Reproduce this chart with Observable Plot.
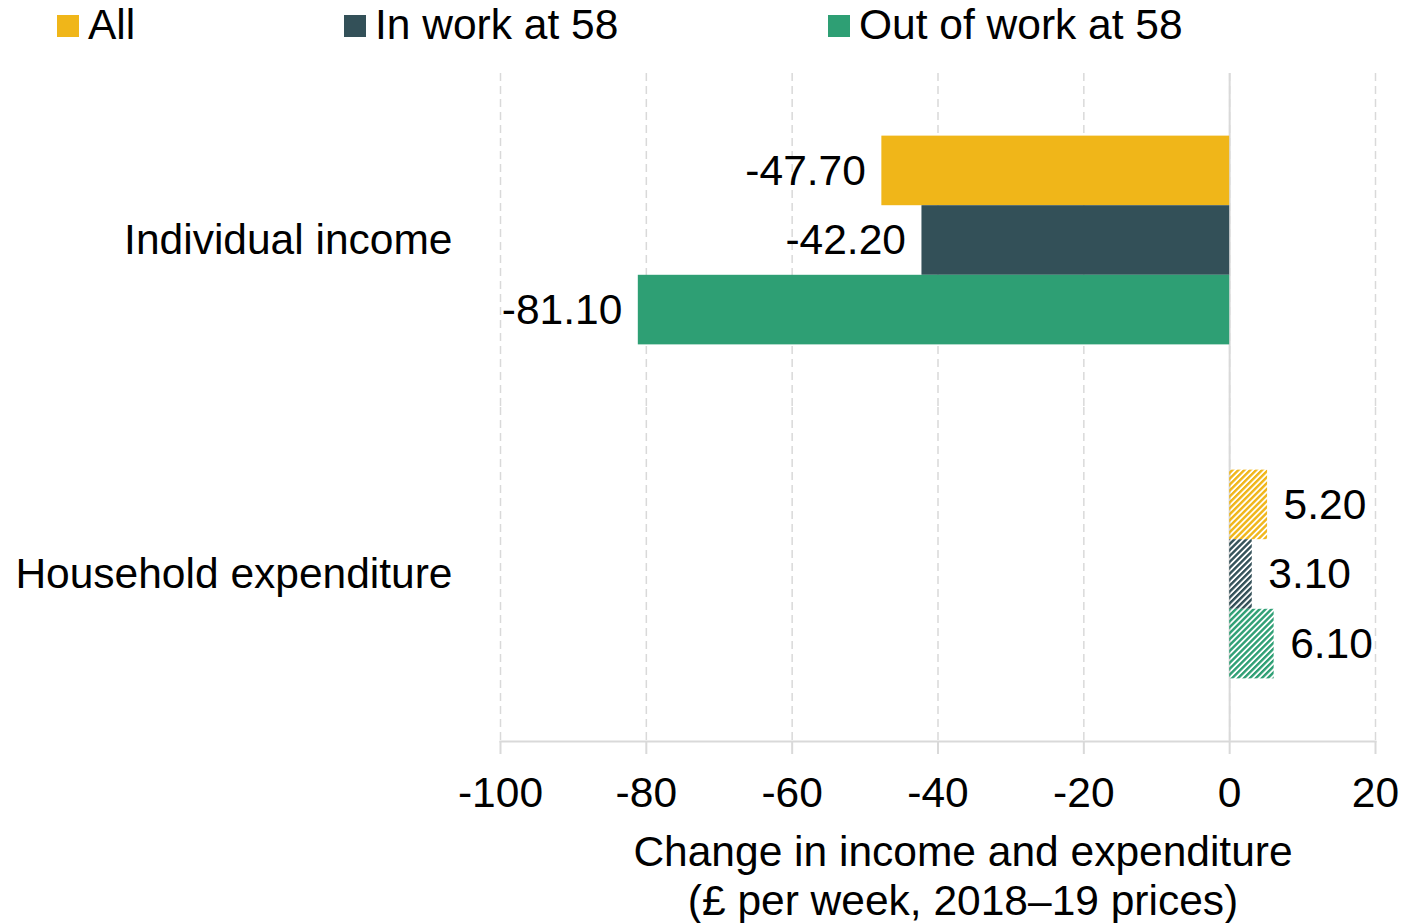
<!DOCTYPE html>
<html>
<head>
<meta charset="utf-8">
<script src="https://cdn.jsdelivr.net/npm/d3@7"></script>
<script src="https://cdn.jsdelivr.net/npm/@observablehq/plot@0.6"></script>
<style>
  html, body { margin: 0; padding: 0; background: #fff; }
  body { width: 1409px; height: 923px; overflow: hidden; font-family: "Liberation Sans", Arial, sans-serif; color: #000; }
  #legend { position: relative; width: 1409px; height: 60px; font-size: 42.5px; }
  .item { position: absolute; top: 0; height: 60px; }
  .sw { position: absolute; top: 15px; left: 0; width: 22px; height: 22px; }
  .lab { position: absolute; top: 4px; left: 31px; line-height: 42px; white-space: nowrap; }
  svg { display: block; }
</style>
</head>
<body>
<div id="legend"></div>
<div id="chart"></div>
<script>
const categories = ["Individual income", "Household expenditure"];
const series = ["All", "In work at 58", "Out of work at 58"];
const incomeValues = [-47.7, -42.2, -81.1];
const expenditureValues = [5.2, 3.1, 6.1];
const xTicks = [-100, -80, -60, -40, -20, 0, 20];
const colors = ["#F0B619", "#335058", "#2E9F74"];
const axisTitle = "Change in income and expenditure\n(£ per week, 2018–19 prices)";
const legendLefts = [57, 344, 828];

// legend
const legend = d3.select("#legend");
series.forEach((s, i) => {
  const it = legend.append("div").attr("class", "item").style("left", legendLefts[i] + "px");
  it.append("span").attr("class", "sw").style("background", colors[i]);
  it.append("span").attr("class", "lab").text(s);
});

const data = categories.flatMap((c, ci) =>
  series.map((s, si) => ({
    category: c,
    series: s,
    si,
    hatched: ci === 1,
    value: (ci === 0 ? incomeValues : expenditureValues)[si]
  }))
);

const fmt = d => d.toFixed(2);

const plot = Plot.plot({
  width: 1409,
  height: 863,
  marginTop: 13,
  marginBottom: 182,
  marginLeft: 500,
  marginRight: 34,
  style: { fontFamily: "'Liberation Sans', Arial, sans-serif", fontSize: "42.5px", color: "#000", background: "#fff" },
  x: { domain: [-100, 20] },
  fy: { domain: categories, padding: 0, round: false },
  y: { domain: series, paddingInner: 0, paddingOuter: 0.9, round: false, axis: null },
  color: { type: "identity" },
  marks: [
    Plot.gridX(xTicks, { stroke: "#d9d9d9", strokeOpacity: 1, strokeWidth: 1.5, strokeDasharray: "8,5" }),
    Plot.ruleX([0], { stroke: "#d9d9d9", strokeWidth: 2 }),
    Plot.barX(data, {
      x: "value", y: "series", fy: "category",
      fill: d => d.hatched ? `url(#hatch-${d.si})` : colors[d.si]
    }),
    Plot.text(data.filter(d => d.value < 0), {
      x: "value", y: "series", fy: "category", text: d => fmt(d.value),
      textAnchor: "end", dx: -16, fill: "#000"
    }),
    Plot.text(data.filter(d => d.value >= 0), {
      x: "value", y: "series", fy: "category", text: d => fmt(d.value),
      textAnchor: "start", dx: 16, fill: "#000"
    }),
    Plot.frame({ anchor: "bottom", stroke: "#d9d9d9", strokeWidth: 2, fy: () => categories[1] }),
    Plot.axisX({
      ticks: xTicks, tickSize: 13, tickPadding: 22, stroke: "#d9d9d9", strokeWidth: 2,
      fill: "#000", tickFormat: d => String(d), label: null
    }),
    Plot.axisFy({ anchor: "left", tickSize: 0, tickPadding: 48, label: null, fill: "#000" }),
    Plot.text([axisTitle], {
      text: d => d, fy: () => categories[1], frameAnchor: "bottom",
      dy: 133, dx: 25, lineAnchor: "middle", lineHeight: 1.16, fill: "#000"
    })
  ]
});

// hatch patterns
const defs = d3.select(plot).insert("defs", ":first-child");
colors.forEach((c, i) => {
  const p = defs.append("pattern")
    .attr("id", `hatch-${i}`)
    .attr("patternUnits", "userSpaceOnUse")
    .attr("width", 4.2).attr("height", 4.2)
    .attr("patternTransform", "rotate(45)");
  p.append("rect").attr("x", 0).attr("y", 0).attr("width", 2.4).attr("height", 4.2).attr("fill", c);
});

document.getElementById("chart").appendChild(plot);
</script>
</body>
</html>
